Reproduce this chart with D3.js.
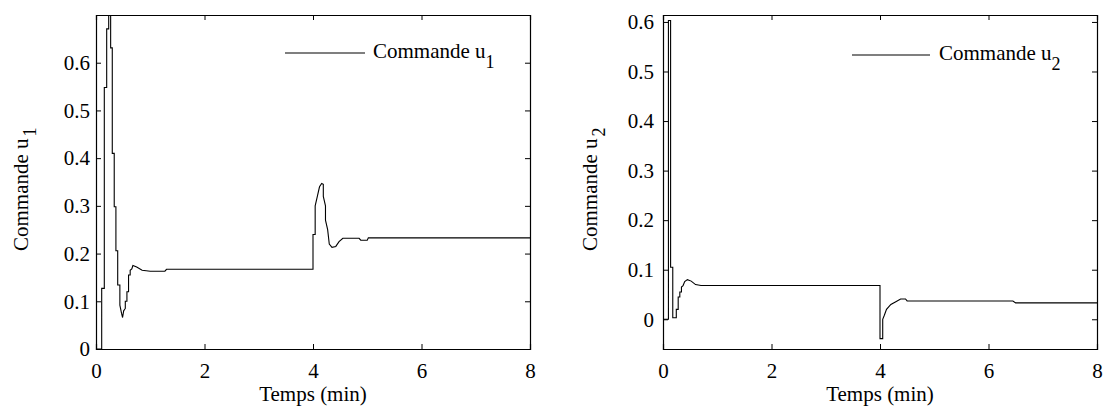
<!DOCTYPE html>
<html>
<head>
<meta charset="utf-8">
<script src="https://cdn.jsdelivr.net/npm/d3@7"></script>
<style>
  body { margin: 0; background: #fff; }
</style>
</head>
<body>
<script>
// time (min) and command values; steps use repeated times
const t1 = [0, 0.105, 0.105, 0.153, 0.153, 0.197, 0.197, 0.234, 0.234, 0.27, 0.27, 0.30, 0.30, 0.336, 0.336,
  0.367, 0.367, 0.40, 0.40, 0.44, 0.44, 0.47, 0.49, 0.51, 0.54, 0.54, 0.57, 0.57, 0.60, 0.60, 0.63, 0.63,
  0.66, 0.68, 0.75, 0.85, 1.0, 1.27, 1.30, 4.0, 4.0, 4.04, 4.04, 4.08, 4.12, 4.16, 4.19, 4.19, 4.23, 4.23,
  4.27, 4.30, 4.35, 4.42, 4.48, 4.55, 4.85, 4.88, 5.0, 5.02, 8];
const u1 = [0, 0, 0.127, 0.127, 0.548, 0.548, 0.671, 0.671, 0.71, 0.71, 0.631, 0.631, 0.41, 0.41, 0.298,
  0.298, 0.206, 0.206, 0.134, 0.134, 0.092, 0.075, 0.066, 0.08, 0.085, 0.10, 0.10, 0.12, 0.12, 0.155, 0.155, 0.165,
  0.168, 0.175, 0.172, 0.165, 0.163, 0.163, 0.167, 0.167, 0.24, 0.24, 0.30, 0.32, 0.34, 0.347, 0.345, 0.32, 0.30, 0.27,
  0.25, 0.22, 0.213, 0.215, 0.225, 0.232, 0.232, 0.228, 0.228, 0.233, 0.233];

const t2 = [0, 0.10, 0.10, 0.14, 0.14, 0.18, 0.18, 0.245, 0.245, 0.28, 0.28, 0.31, 0.31, 0.34, 0.34, 0.37,
  0.40, 0.45, 0.52, 0.60, 0.70, 4.0, 4.0, 4.05, 4.05, 4.08, 4.12, 4.16, 4.2, 4.3, 4.38, 4.47, 4.5, 6.45, 6.5, 8];
const u2 = [0, 0, 0.603, 0.603, 0.105, 0.105, 0.003, 0.003, 0.02, 0.02, 0.045, 0.045, 0.055, 0.055, 0.065, 0.068,
  0.076, 0.08, 0.077, 0.07, 0.068, 0.068, -0.039, -0.039, 0.0, 0.008, 0.02, 0.025, 0.03, 0.036, 0.041, 0.041, 0.037,
  0.037, 0.033, 0.033];

const xTicks = [0, 2, 4, 6, 8];
const yTicks1 = [0, 0.1, 0.2, 0.3, 0.4, 0.5, 0.6];
const yTicks2 = [0, 0.1, 0.2, 0.3, 0.4, 0.5, 0.6];

const W = 1105, H = 414;
const FONT = "Liberation Serif";
const svg = d3.select("body").append("svg")
  .attr("width", W).attr("height", H)
  .attr("font-family", FONT);

function drawPanel(opts) {
  const { left, right, top, bottom, ydom, t, u, yTicks, sub, idx, labelX, pad, legend } = opts;
  const x = d3.scaleLinear().domain([0, 8]).range([left, right]);
  const y = d3.scaleLinear().domain(ydom).range([bottom, top]);
  const g = svg.append("g");

  const clipId = "clip" + idx;
  g.append("clipPath").attr("id", clipId)
    .append("rect").attr("x", left).attr("y", top)
    .attr("width", right - left).attr("height", bottom - top);

  // line
  const line = d3.line().x((d, i) => x(t[i])).y(d => y(d));
  g.append("path").datum(u)
    .attr("clip-path", `url(#${clipId})`)
    .attr("fill", "none").attr("stroke", "#000").attr("stroke-width", 1.1)
    .attr("d", line);

  // axes with inward ticks, box style
  const tk = 5;
  g.append("g").attr("transform", `translate(0,${bottom})`)
    .call(d3.axisBottom(x).tickValues(xTicks).tickSize(-tk).tickPadding(14).tickFormat(d3.format("d")));
  g.append("g").attr("transform", `translate(0,${top})`)
    .call(d3.axisTop(x).tickValues(xTicks).tickSize(-tk).tickFormat(""));
  g.append("g").attr("transform", `translate(${left},0)`)
    .call(d3.axisLeft(y).tickValues(yTicks).tickSize(-tk).tickPadding(pad).tickFormat(d => d === 0 ? "0" : d3.format(".1f")(d)));
  g.append("g").attr("transform", `translate(${right},0)`)
    .call(d3.axisRight(y).tickValues(yTicks).tickSize(-tk).tickFormat(""));

  g.selectAll("g").attr("font-family", FONT).attr("font-size", 21);
  g.selectAll(".domain").attr("stroke", "#000").attr("stroke-width", 1.2);
  g.selectAll(".tick line").attr("stroke", "#000");
  g.selectAll(".tick text").attr("fill", "#000");

  // x label
  g.append("text").attr("x", (left + right) / 2).attr("y", 401)
    .attr("text-anchor", "middle").attr("font-family", FONT).attr("font-size", 21)
    .text("Temps (min)");

  // y label
  const yl = g.append("text")
    .attr("transform", `translate(${labelX},251) rotate(-90)`)
    .attr("text-anchor", "start").attr("font-family", FONT).attr("font-size", 21);
  yl.append("tspan").text("Commande u");
  yl.append("tspan").attr("dx", 2).attr("dy", 8).attr("font-size", 18).text(sub);

  // legend
  g.append("line").attr("x1", legend.x1).attr("x2", legend.x2)
    .attr("y1", legend.y).attr("y2", legend.y)
    .attr("stroke", "#000").attr("stroke-width", 1.1);
  const lt = g.append("text").attr("x", legend.tx).attr("y", legend.y + 5)
    .attr("font-family", FONT).attr("font-size", 21);
  lt.append("tspan").text("Commande u");
  lt.append("tspan").attr("dy", 10).attr("font-size", 18).text(sub);
}

drawPanel({ left: 96, right: 530, top: 15, bottom: 349, ydom: [0, 0.7], t: t1, u: u1,
  yTicks: yTicks1, sub: "1", idx: 1, labelX: 28, pad: 6,
  legend: { x1: 285, x2: 365, y: 53, tx: 373 } });
drawPanel({ left: 663, right: 1097, top: 15, bottom: 349, ydom: [-0.06, 0.614], t: t2, u: u2,
  yTicks: yTicks2, sub: "2", idx: 2, labelX: 597, pad: 9,
  legend: { x1: 852, x2: 930, y: 55, tx: 939 } });
</script>
</body>
</html>
